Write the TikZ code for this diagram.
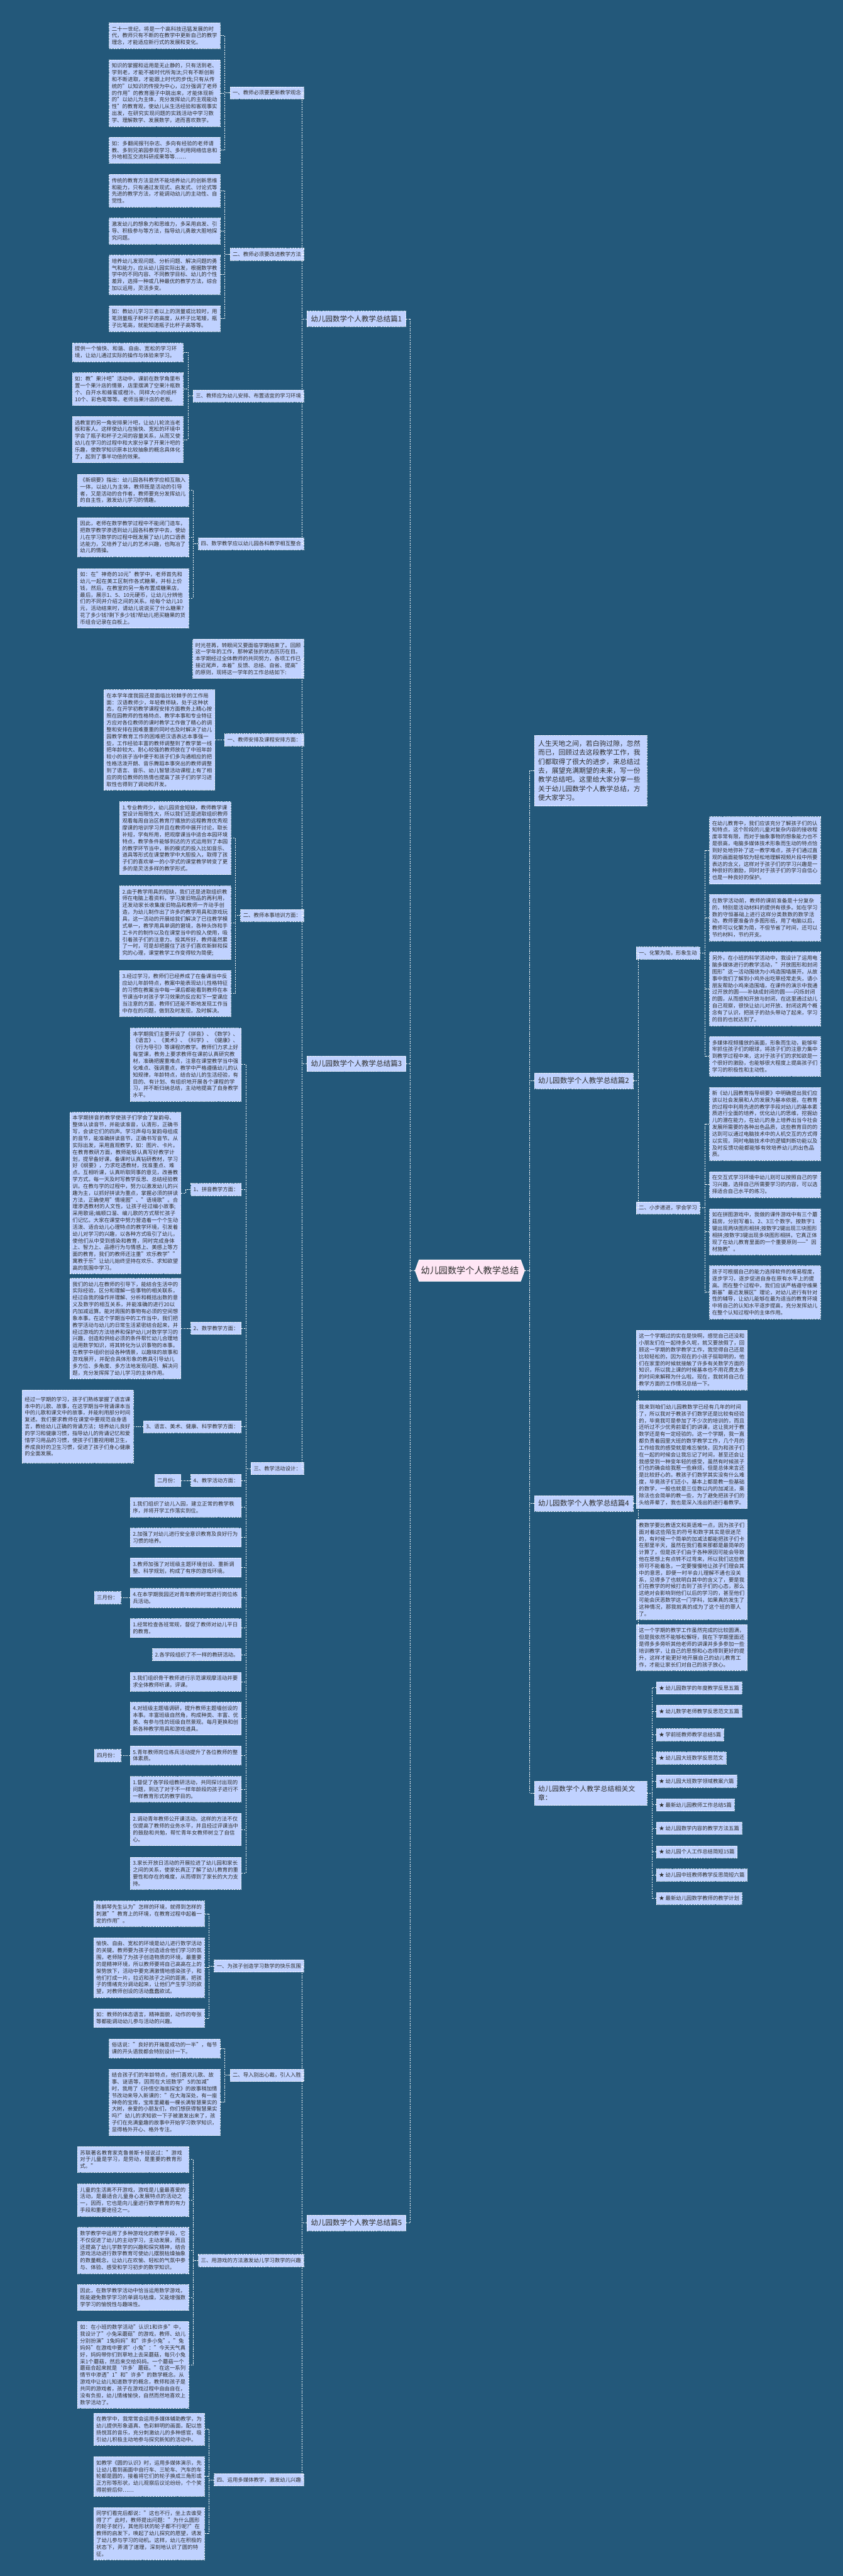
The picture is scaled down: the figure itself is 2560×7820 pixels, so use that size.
\documentclass[tikz,border=0pt]{standalone}
\usepackage{fontspec}
\setmainfont{Noto Sans CJK SC}
\usetikzlibrary{calc,shapes.symbols}
\XeTeXlinebreaklocale "zh"
\XeTeXlinebreakskip=0pt plus 1pt
\definecolor{bgc}{RGB}{35,88,122}
\definecolor{boxc}{RGB}{192,210,255}
\definecolor{rootc}{RGB}{255,230,245}
\definecolor{txtc}{RGB}{45,45,45}
\tikzset{
 conn/.style={draw=white, line width=1.6pt, dash pattern=on 4pt off 3pt},
 tb/.style={draw=white, line width=1.2pt, dash pattern=on 3pt off 2pt, fill=boxc, text=txtc,
   font=\fontsize{16}{20.7}\selectfont, text width=321pt, align=left, inner xsep=8pt, inner ysep=10pt},
 lb/.style={draw=white, line width=1.2pt, dash pattern=on 3pt off 2pt, fill=boxc, text=txtc,
   font=\fontsize{16}{20}\selectfont, inner xsep=8pt, inner ysep=6pt, minimum height=37pt},
 sec/.style={lb, font=\fontsize{22}{26}\selectfont, inner xsep=12pt, minimum height=47pt},
 big/.style={tb, font=\fontsize{20.5}{27.4}\selectfont, text width=318pt, inner xsep=12pt, inner ysep=13pt},
 ctr/.style={signal, signal to=west and east, signal pointer angle=140, draw=white, line width=1.2pt,
   fill=rootc, text=txtc, font=\fontsize{27}{32}\selectfont, minimum height=65pt, inner xsep=6pt},
}
\newcommand\LG[4]{%
 \coordinate (#1-t) at ($(#1.west)+(-15,0)$);
 \draw[conn] (#1.west) -- (#1-t);
 \draw[conn] (#1-t |- #2.east) -- (#1-t |- #3.east);
 \foreach \cc in {#4}{\draw[conn] (\cc.east) -- (#1-t |- \cc.east);}
}
\newcommand\RG[4]{%
 \coordinate (#1-r) at ($(#1.east)+(15,0)$);
 \draw[conn] (#1.east) -- (#1-r);
 \draw[conn] (#1-r |- #2.west) -- (#1-r |- #3.west);
 \foreach \cc in {#4}{\draw[conn] (\cc.west) -- (#1-r |- \cc.west);}
}
\begin{document}
\begin{tikzpicture}[x=1pt,y=-1pt]
\fill[bgc] (0,0) rectangle (2560,7820);
\useasboundingbox (0,0) rectangle (2560,7820);

% ---------- root ----------
\node[ctr] (root) at (1427,3857) {幼儿园数学个人教学总结};

% ---------- level 1 ----------
\node[sec, anchor=east] (p1) at (1233,968) {幼儿园数学个人教学总结篇1};
\node[sec, anchor=east] (p3) at (1233,3229) {幼儿园数学个人教学总结篇3};
\node[sec, anchor=east] (p5) at (1233,6748) {幼儿园数学个人教学总结篇5};
\node[big, anchor=north west, minimum height=214pt] (intro) at (1622,2232) {人生天地之间，若白驹过隙，忽然而已，回顾过去这段教学工作，我们都取得了很大的进步，来总结过去，展望充满期望的未来，写一份教学总结吧。这里给大家分享一些关于幼儿园数学个人教学总结，方便大家学习。};
\node[sec, anchor=west] (p2) at (1622,3281) {幼儿园数学个人教学总结篇2};
\node[sec, anchor=west] (p4) at (1622,4564) {幼儿园数学个人教学总结篇4};
\node[big, anchor=north west, minimum height=74pt] (rel) at (1622,5406) {幼儿园数学个人教学总结相关文章：};

% ---------- 篇1 ----------
\node[lb, anchor=east] (a0) at (923,282) {一、教师必须要更新教学观念};
\node[tb, anchor=north east, minimum height=78pt] (a1) at (669,69) {二十一世纪，将是一个高科技迅猛发展的时代，教师只有不断的在教学中更新自己的教学理念，才能适应新行式的发展和变化。};
\node[tb, anchor=north east, minimum height=202pt] (a2) at (669,181) {知识的掌握和运用是无止静的，只有活到老、学到老，才能不被时代所淘汰;只有不断创新和不断进取，才能跟上时代的步伐;只有从传统的"以知识的传授为中心，过分强调了老师的作用"的教育圈子中跳出来，才能体现新的"以幼儿为主体，充分发挥幼儿的主观能动性"的教育观，使幼儿从生活经验和客观事实出发，在研究实现问题的实践活动中学习数学、理解数学、发展数学，进而喜欢数学。};
\node[tb, anchor=north east, minimum height=79pt] (a3) at (669,416) {如：多翻阅报刊杂志、多向有经验的老师请教、多到兄弟园参观学习、多利用网络信息和外地相互交流科研成果等等……};

\node[lb, anchor=east] (b0) at (923,772) {二、教师必须要改进教学方法};
\node[tb, anchor=north east, minimum height=99pt] (b1) at (669,529) {传统的教育方法显然不能培养幼儿的创新思维和能力，只有通过发现式、启发式、讨论式等先进的教学方法，才能调动幼儿的主动性、自觉性。};
\node[tb, anchor=north east, minimum height=79pt] (b2) at (669,661) {激发幼儿的想象力和思维力，多采用启发、引导、积极参与等方法，指导幼儿勇敢大胆地探究问题。};
\node[tb, anchor=north east, minimum height=119pt] (b3) at (669,774) {培养幼儿发现问题、分析问题、解决问题的勇气和能力，应从幼儿园实际出发，根据数学教学中的不同内容、不同教学目标、幼儿的个性差异，选择一种或几种最优的教学方法，综合加以运用，灵活多变。};
\node[tb, anchor=north east, minimum height=79pt] (b4) at (669,927) {如：教幼儿学习三者以上的测量或比较时，用笔测量瓶子和杯子的高度，从杯子比笔矮，瓶子比笔高，就能知道瓶子比杯子高等等。};

\node[lb, anchor=east] (c0) at (923,1202) {三、教师应为幼儿安排、布置适宜的学习环境};
\node[tb, anchor=north east, minimum height=55pt] (c1) at (557,1041) {提供一个愉快、和谐、自由、宽松的学习环境，让幼儿通过实际的操作与体验来学习。};
\node[tb, anchor=north east, minimum height=99pt] (c2) at (557,1131) {如：教"果汁吧"活动中，课前在数学角里布置一个果汁店的情景，店里摆满了空果汁瓶数个、白开水和蜂蜜或橙汁、同样大小的纸杯10个、彩色笔等等。老师当果汁店的老板。};
\node[tb, anchor=north east, minimum height=140pt] (c3) at (557,1264) {选教室的另一角安排果汁吧，让幼儿轮流当老板和客人。这样使幼儿在愉快、宽松的环境中学会了瓶子和杯子之间的容量关系，从而又使幼儿在学习的过程中和大家分享了开果汁吧的乐趣，使数学知识原本比较抽象的概念具体化了，起到了事半功倍的效果。};

\node[lb, anchor=east] (d0) at (923,1651) {四、数学教学应以幼儿园各科教学相互整合};
\node[tb, anchor=north east, minimum height=97pt] (d1) at (573,1439) {《新纲要》指出：幼儿园各科教学应相互融入一体，以幼儿为主体，教师既是活动的引导者，又是活动的合作者，教师要充分发挥幼儿的自主性，激发幼儿学习的情趣。};
\node[tb, anchor=north east, minimum height=118pt] (d2) at (573,1571) {因此，老师在数学教学过程中不能闭门造车，把数学教学渗透到幼儿园各科教学中去，使幼儿在学习数学的过程中既发展了幼儿的口语表达能力，又培养了幼儿的艺术兴趣，也陶冶了幼儿的情操。};
\node[tb, anchor=north east, minimum height=181pt] (d3) at (573,1725) {如：在"神奇的10元"教学中，老师首先和幼儿一起在美工区制作各式糖果，并标上价钱，然后，在教室的另一角布置成糖果店，最后，展示1、5、10元硬币，让幼儿分辨他们的不同并介绍之间的关系。给每个幼儿10元，活动结束时，请幼儿说说买了什么糖果?花了多少钱?剩下多少钱?帮幼儿把买糖果的货币组合记录在白板上。};

% ---------- 篇3 ----------
\node[tb, anchor=north east, minimum height=119pt] (e0) at (923,1940) {时光荏苒，转眼间又要面临学期结束了。回顾这一学年的工作，那种紧张的状态历历在目。本学期经过全体教师的共同努力，各项工作已接近尾声，本着"反馈、总结、自省、提高"的原则，现将这一学年的工作总结如下:};
\node[lb, anchor=east] (f0) at (923,2246) {一、教师安排及课程安排方面：};
\node[tb, anchor=north east, minimum height=305pt] (f1) at (653,2093) {在本学年度我园还是面临比较棘手的工作局面：汉语教师少，年轻教师缺，处于这种状态，在开学初教学课程安排方面教务上精心按照在园教师的性格特点、教学本事和专业特征方应对各位教师的课时教学工作做了精心的调整和安排在困难重重的同时也及时解决了幼儿园教学教育工作的困难把汉语表达本事强一些，工作经验丰富的教师调整到了教学第一线把年龄较大、耐心较强的教师放在了中班年龄较小的孩子当中便于和孩子们多沟通相应的把性格活泼开朗、音乐舞蹈本事突出的教师调整到了语言、音乐、幼儿智慧活动课程上有了相应的岗位教师的热情也提高了孩子们的学习进取性也得到了调动和开发。};

\node[lb, anchor=east] (g0) at (923,2779) {二、教师本事培训方面：};
\node[tb, anchor=north east, minimum height=221pt] (g1) at (701,2433) {1.专业教师少，幼儿园资金短缺，教师教学课堂设计局限性大，所以我们还是进取组织教师观看每周自治区教育厅播放的远程教育优秀观摩课的培训学习并且在教师中展开讨论，取长补短，学有所用，把观摩课当中适合本园环境特点，教学条件能够到达的方式运用到了本园的教学环节当中，新的模式的投入比如音乐、道具等形式在课堂教学中大胆投入，取得了孩子们的喜欢单一的小学式的课堂教学转变了更多的是灵活多样的教学形式。};
\node[tb, anchor=north east, minimum height=222pt] (g2) at (701,2689) {2.由于教学用具的短缺，我们还是进取组织教师在电脑上看资料，学习废旧物品的再利用，还发动家长收集废旧物品和教师一齐动手创造，为幼儿制作出了许多的教学用具和游戏玩具，这一活动的开展给我们解决了已往教学模式单一，教学用具单调的窘境，各种头饰和手工卡片的制作以及在课堂当中的投入使用，吸引着孩子们的注意力。投其所好，教师虽然累了一时，可是却把握住了孩子们喜欢新鲜和探究的心理，课堂教学工作变得较为简便;};
\node[tb, anchor=north east, minimum height=139pt] (g3) at (701,2946) {3.经过学习，教师们已经养成了在备课当中反应幼儿年龄特点，教案中能表现幼儿性格特征的习惯在教案当中每一课后都能看到教师在本节课当中对孩子学习效果的反应和下一堂课应当注意的方面，教师们还能不断地发现工作当中存在的问题，做到及时发现，及时解决。};

\node[lb, anchor=east] (h0) at (923,4458) {三、教学活动设计：};
\node[tb, anchor=north east, minimum height=222pt] (h1) at (733,3120) {本学期我们主要开设了《拼音》、《数学》、《语言》、《美术》、《科学》、《健康》、《行为导引》等课程的教学。教师们力求上好每堂课，教务上要求教师在课前认真研究教材，准确把握重难点，注意在课堂教学当中强化难点、强调重点，教学中严格遵循幼儿的认知规律，年龄特点，结合幼儿的生活经验，有目的、有计划、有组织地开展各个课程的学习，并不断归纳总结，主动地提高了自身教学水平。};
\node[lb, anchor=east] (ha) at (733,3611) {1、拼音教学方面：};
\node[tb, anchor=north east, minimum height=470pt] (h2) at (550,3376) {本学期拼音的教学使孩子们学会了复韵母、整体认读音节，并能读准音，认清形，正确书写，会读它们的四声。学习声母与复韵母组成的音节，能准确拼读音节，正确书写音节。从实际出发，采用直观教学，如：图片、卡片。在教育教研方面，教师能够认真写好教学计划，提早备好课，备课时认真钻研教材，学习好《纲要》，力求吃透教材，找准重点、难点。互相听课，认真听取同事的意见，改善教学方式。每一天及时写教学反思、总结经验教训。在教与学的过程中，努力以激发幼儿的兴趣为主，以抓好拼读为重点，掌握必须的拼读方法，正确使用"情境图"、"语境歌"。合理渗透教材的人文性，让孩子经过编小故事;采用歌谣;编顺口溜、编儿歌的方式帮忙孩子们记忆。大家在课堂中努力营造着一个个生动活泼、适合幼儿心理特点的教学环境，引发着幼儿对学习的兴趣，以各种方式吸引了幼儿，使他们从中受到感染和教育，同时完成身体上、智力上、品德行为与情感上、美感上等方面的教育，我们的教师还注重"欢乐教学""寓教于乐"让幼儿始终坚持在欢乐、求知欲望高的氛围中学习。};
\node[lb, anchor=east] (hb) at (733,4032) {2、数学教学方面：};
\node[tb, anchor=north east, minimum height=305pt] (h3) at (550,3880) {我们的幼儿在教师的引导下，能结合生活中的实际经验，区分和理解一些事物的相关联系，经过自我的操作并理解、分析和概括出数的意义及数字的相互关系，并能准确的进行20以内加减运算。能对周围的事物有必须的空间想象本事。在这个学期当中的工作当中，我们把教学活动与幼儿的日常生活紧密结合起来，并经过游戏的方法培养和保护幼儿对数学学习的兴趣，创造和供给必须的条件帮忙幼儿合理地运用数学知识，将其转化为认识事物的本事。在教学中组织创设各种情景，以趣味的故事和游戏展开，并配合具体形象的教具引导幼儿多方位、多角度、多方法地发现问题、解决问题，充分发挥挥了幼儿学习的主体作用。};
\node[lb, anchor=east] (hc) at (733,4331) {3、语言、美术、健康、科学教学方面：};
\node[tb, anchor=north east, minimum height=222pt] (h4) at (405,4219) {经过一学期的学习，孩子们熟练掌握了语言课本中的儿歌、故事，在这学期当中背诵课本当中的儿歌和课文中的故事，并能利用部分时间复述。我们要求教师在课堂中要规范自身语言，教给幼儿正确的背诵方法；培养幼儿良好的学习和健康习惯，指导幼儿的背诵记忆和爱惜学习用品的习惯，使孩子们重视用眼卫生，养成良好的卫生习惯，促进了孩子们身心健康的全面发展。};
\node[lb, anchor=east] (hd) at (733,4494) {4、教学活动方面：};
\node[lb, anchor=east] (m2) at (550,4494) {二月份：};
\node[tb, anchor=north east, minimum height=58pt] (i1) at (733,4546) {1.我们组织了幼儿入园，建立正常的教学秩序，并将开学工作落实到位。};
\node[tb, anchor=north east, minimum height=57pt] (i2) at (733,4638) {2.加强了对幼儿进行安全意识教育及良好行为习惯的培养。};
\node[tb, anchor=north east, minimum height=58pt] (i3) at (733,4729) {3.教师加强了对班级主题环境创设、重新调整、科学规划，构成了有序的游戏环境。};
\node[tb, anchor=north east, minimum height=58pt] (i4) at (733,4821) {4.在本学期我园还对青年教师时常进行岗位练兵活动。};
\node[lb, anchor=east] (m3) at (367,4850) {三月份：};
\node[tb, anchor=north east, minimum height=57pt] (i5) at (733,4913) {1.经常检查各班常规，督促了教师对幼儿平日的教育。};
\node[lb, anchor=east] (i6) at (733,5023) {2.各学段组织了不一样的教研活动。};
\node[tb, anchor=north east, minimum height=57pt] (i7) at (733,5076) {3.我们组织骨干教师进行示范课观摩活动并要求全体教师听课，评课。};
\node[tb, anchor=north east, minimum height=99pt] (i8) at (733,5167) {4.对班级主题墙调研，提升教师主题墙创设的本事。丰富班级自然角，构成种类、丰富、优美、有参与性的班级自然景观。每月更换和创新各种教学用具和游戏道具。};
\node[tb, anchor=north east, minimum height=57pt] (i9) at (733,5300) {5.青年教师岗位练兵活动提升了各位教师的整体素质。};
\node[lb, anchor=east] (m4) at (367,5329) {四月份：};
\node[tb, anchor=north east, minimum height=78pt] (i10) at (733,5392) {1.督促了各学段组教研活动，共同探讨出现的问题，到达了对于不一样年龄段的孩子进行不一样教育形式的教学目的。};
\node[tb, anchor=north east, minimum height=98pt] (i11) at (733,5504) {2.调动青年教师公开课活动。这样的方法不仅仅提高了教师的业务水平，并且经过评课当中的鼓励和共勉，帮忙青年女教师树立了自信心。};
\node[tb, anchor=north east, minimum height=98pt] (i12) at (733,5637) {3.家长开放日活动的开展拉进了幼儿园和家长之间的关系，使家长真正了解了幼儿教育的重要性和存在的难度，从而得到了家长的大力支持。};

% ---------- 篇5 ----------
\node[lb, anchor=east] (n1) at (923,5968) {一、为孩子创造学习数学的快乐氛围};
\node[tb, anchor=north east, minimum height=78pt] (j1) at (622,5770) {陈鹤琴先生认为"怎样的环境，就得到怎样的刺激""教育上的环境，在教育过程中起着一定的作用"。};
\node[tb, anchor=north east, minimum height=181pt] (j2) at (622,5882) {愉快、自由、宽松的环境是幼儿进行数学活动的关键。教师要为孩子创造适合他们学习的氛围，老师除了为孩子创造物质的环境，最重要的是精神环境，所以教师要将自己高高在上的架势放下，活动中要充满激情地感染孩子，和他们打成一片，拉近和孩子之间的距离，把孩子的情绪充分调动起来，让他们产生学习的欲望，对教师创设的活动蠢蠢欲试。};
\node[tb, anchor=north east, minimum height=56pt] (j3) at (622,6098) {如：教师的体态语言，精神面貌，动作的夸张等都能调动幼儿参与活动的兴趣。};

\node[lb, anchor=east] (n2) at (923,6300) {二、导入别出心裁，引人入胜};
\node[tb, anchor=north east, minimum height=57pt] (k1) at (669,6189) {俗话说："良好的开端是成功的一半"，每节课的开头语我都会特别设计一下。};
\node[tb, anchor=north east, minimum height=201pt] (k2) at (669,6281) {结合孩子们的年龄特点，他们喜欢儿歌、故事、谜语等，因而在大班数学"5的加减"时，我用了《孙悟空海底探宝》的故事稍加情节改动来导入新课的："在大海深处，有一座神奇的宝库，宝库里藏着一棵长满智慧果实的大树，亲爱的小朋友们，你们想获得智慧果实吗?"幼儿的求知欲一下子被激发出来了，孩子们在充满童趣的故事中开始学习数学知识，显得格外开心、格外专注。};

\node[lb, anchor=east] (n3) at (923,6862) {三、用游戏的方法激发幼儿学习数学的兴趣};
\node[tb, anchor=north east, minimum height=78pt] (l1) at (573,6516) {苏联著名教育家克鲁普斯卡娅说过："游戏对于儿童是学习，是劳动，是重要的教育形式。"};
\node[tb, anchor=north east, minimum height=98pt] (l2) at (573,6629) {儿童的生活离不开游戏，游戏是儿童最喜爱的活动，是最适合儿童身心发展特点的活动之一，因而，它也是向儿童进行数学教育的有力手段和重要途径之一。};
\node[tb, anchor=north east, minimum height=140pt] (l3) at (573,6761) {数学教学中运用了多种游戏化的教学手段，它不仅促进了幼儿的主动学习，主动发展，而且还提高了幼儿学数学的兴趣和探究精神，结合游戏活动进行数学教育可使幼儿摆脱枯燥抽象的数量概念，让幼儿在欢愉、轻松的气氛中参与、体验、感受和学习初步的数学知识。};
\node[tb, anchor=north east, minimum height=78pt] (l4) at (573,6935) {因此，在数学教学活动中恰当运用数学游戏，既能避免数学学习的单调与枯燥，又能增强数学学习的愉悦性与趣味性。};
\node[tb, anchor=north east, minimum height=243pt] (l5) at (573,7047) {如：在小班的数学活动"认识1和许多"中，我设计了"小兔采蘑菇"的游戏，教师、幼儿分别扮演"1兔妈妈"和"许多小兔"。"兔妈妈"在游戏中要求"小兔"："今天天气真好，妈妈带你们到草地上去采蘑菇，每只小兔采1个蘑菇，然后来交给妈妈。一个蘑菇一个蘑菇合起来就是‘许多’蘑菇。"在这一系列情节中渗透"1"和"许多"的数学概念。从游戏中让幼儿知道数字的概念，教师和孩子是共同的游戏者，孩子在游戏过程中自由自在，没有负担，幼儿情绪愉快，自然而然地喜欢上数学活动了。};

\node[lb, anchor=east] (n4) at (923,7528) {四、运用多媒体教学，激发幼儿兴趣};
\node[tb, anchor=north east, minimum height=98pt] (o1) at (622,7325) {在教学中，我常常会运用多媒体辅助教学，为幼儿提供形象逼真、色彩鲜明的画面，配以悠扬悦耳的音乐，充分刺激幼儿的多种感官，吸引幼儿积极主动地参与探究新知的活动中。};
\node[tb, anchor=north east, minimum height=120pt] (o2) at (622,7457) {如教学《圆的认识》时，运用多媒体演示，先让幼儿看到画面中自行车、三轮车、汽车的车轮都是圆的，接着将它们的轮子换成三角形或正方形等形状，幼儿观察后议论纷纷，个个笑得前俯后仰……};
\node[tb, anchor=north east, minimum height=140pt] (o3) at (622,7611) {同学们看完后都说："这也不行，坐上去谁受得了?"此时，教师提出问题："为什么圆形的轮子就行，其他形状的轮子都不行呢?"在教师的启发下，唤起了幼儿探究的愿望，诱发了幼儿参与学习的动机。这样，幼儿在积极的状态下，弄清了道理，深刻地认识了圆的特征。};

% ---------- 篇2 ----------
\node[lb, anchor=west] (pa) at (1932,2893) {一、化繁为简，形象生动};
\node[tb, anchor=north west, minimum height=204pt] (q1) at (2154,2479) {在幼儿教育中，我们应该充分了解孩子们的认知特点，这个阶段的儿童对复杂内容的接收程度非常有限，而对于抽象事物的想象能力也不是很高，电脑多媒体技术形象而生动的特点恰到好处地弥补了这一教学难点，孩子们通过直观的画面能够较为轻松地理解视频片段中所要表达的含义，这样对于孩子们的学习兴趣是一种很好的激励，同时对于孩子们的学习自信心也是一种良好的保护。};
\node[tb, anchor=north west, minimum height=141pt] (q2) at (2154,2715) {在数学活动前，教师的课前准备是十分复杂的，特别是活动材料的提供有很多。如在学习数的守恒基础上进行这样分类数数的数学活动，教师要准备许多图形纸，用了电脑以后，教师可以化繁为简，不但节省了时间，还可以节约材料，节约开支。};
\node[tb, anchor=north west, minimum height=224pt] (q3) at (2154,2889) {另外，在小班的科学活动中，我设计了运用电脑多媒体进行的教学活动，"开放图形和封闭图形"这一活动围绕为小鸡造围墙展开。从故事中我们了解到小鸡外出吃草经常走失，请小朋友帮助小鸡来造围墙，在课件的演示中我通过开放的圆——补缺成封闭的圆——闪烁封闭的圆，从而感知开放与封闭，在这里通过幼儿自己观察，很快让幼儿对开放、封闭这两个概念有了认识，把孩子的劲头带动了起来，学习的目的也就达到了。};
\node[tb, anchor=north west, minimum height=120pt] (q4) at (2154,3146) {多媒体视频播放的画面，形象而生动，能够牢牢抓住孩子们的眼球，将孩子们的注意力集中到教学过程中来，这对于孩子们的求知欲是一个很好的激励，也能够很大程度上提高孩子们学习的积极性和主动性。};

\node[lb, anchor=west] (pb) at (1932,3667) {二、小步递进，学会学习};
\node[tb, anchor=north west, minimum height=222pt] (u1) at (2154,3300) {新《幼儿园教育指导纲要》中明确提出我们应该以社会发展和人的发展为基本依据，在教育的过程中利用先进的教学手段对幼儿的基本素质进行全面的培养，优化幼儿的思维，挖掘幼儿的潜在能力，在幼儿的身上培养出当今社会发展所需要的各种出色品质，这些教育目的的达到可以通过电脑技术中的人机交互的方式得以实现，同时电脑技术中的逻辑判断功能以及及时反馈功能都能够有效培养幼儿的出色品质。};
\node[tb, anchor=north west, minimum height=79pt] (u2) at (2154,3556) {在交互式学习环境中幼儿则可以按照自己的学习兴趣，选择自己所需要学习的内容，可以选择适合自己水平的练习。};
\node[tb, anchor=north west, minimum height=140pt] (u3) at (2154,3669) {如在拼图游戏中，我做的课件游戏中有三个蘑菇房，分别写着1、2、3三个数字。按数字1键出现两块图形相拼;按数字2键出现三块图形相拼;按数字3键出现多块图形相拼。它真正体现了在幼儿教育里面的一个重要原则——"因材施教"。};
\node[tb, anchor=north west, minimum height=161pt] (u4) at (2154,3842) {孩子可根据自己的能力选择软件的难易程度，逐步学习，逐步促进自身在原有水平上的提高。而在整个过程中，我们应该严格遵守维果斯基"最近发展区"理论，对幼儿进行有针对性的辅导，让幼儿能够在最为适当的教育环境中将自己的认知水平逐步提高，充分发挥幼儿在整个认知过程中的主体作用。};

% ---------- 篇4 ----------
\node[tb, anchor=north west, minimum height=182pt] (r1) at (1932,4037) {这一个学期过的实在是快啊，感觉自己还没和小朋友们在一起待多久呢，就又要放假了，回顾这一学期的数学教学工作，我觉得自己还是比较轻松的，因为现在的小孩子挺聪明的，他们在家里的时候就接触了许多有关数学方面的知识，所以我上课的时候基本也不用花费太多的时间来解释为什么啦。现在，我就将自己在教学方面的工作情况总结一下。};
\node[tb, anchor=north west, minimum height=327pt] (r2) at (1932,4252) {我来到咱们幼儿园教数学已经有几年的时间了，所以我对于教孩子们数学还是比较有经验的，毕竟我可是参加了不少次的培训的，而且还听过不少优秀前辈们的讲课，这让我对于教数学还是有一定经验的。这一个学期，我一直都负责着园里大班的数学教学工作，几个月的工作给我的感受就是难忘愉快，因为和孩子们在一起的时候会让我忘记了时间，甚至还会让我感受到一种变年轻的感受，虽然有时候孩子们也的确会给我惹一些麻烦，但是总体来言还是比较舒心的。教孩子们数学其实没有什么难度，毕竟孩子们还小，基本上都是教一些基础的数学，一般也就是三位数以内的加减法，乘除法也会简单的教一些，为了避免把孩子们的头给弄晕了，我也是深入浅出的进行着教学。};
\node[tb, anchor=north west, minimum height=285pt] (r3) at (1932,4612) {教数学要比教语文和英语难一点，因为孩子们面对着这些陌生的符号和数字其实是很迷茫的，有时候一个简单的加减法都能把孩子们卡在那里半天，虽然在我们看来那都是最简单的计算了，但是孩子们由于各种原因可能会导致他在思想上有点转不过弯来，所以我们这些教师可不能着急，一定要慢慢地让孩子们理会其中的意思，即便一时半会儿理解不通也没关系，见得多了也就明白其中的含义了，要是我们在教学的时候打击到了孩子们的心态，那么这绝对会影响到他们以后的学习的，甚至他们可能会厌恶数学这一门学科，如果真的发生了这种情况，那我就真的成为了这个班的罪人了。};
\node[tb, anchor=north west, minimum height=140pt] (r4) at (1932,4931) {这一个学期的教学工作虽然完成的比较圆满，但是我依然不能够松懈呀，我在下学期里面还是得多多旁听其他老师的讲课并多多参加一些培训教学，让自己的思想和心态得到更好的提升，这样才能更好地开展自己的幼儿教育工作，才能让家长们对自己的孩子放心。};

% ---------- related ----------
\node[lb, anchor=west] (s1) at (1993,5124) {★ 幼儿园数学的年度教学反思五篇};
\node[lb, anchor=west] (s2) at (1993,5195) {★ 幼儿数学老师教学反思范文五篇};
\node[lb, anchor=west] (s3) at (1993,5266) {★ 学前班教师教学总结5篇};
\node[lb, anchor=west] (s4) at (1993,5337) {★ 幼儿园大班数学反思范文};
\node[lb, anchor=west] (s5) at (1993,5407) {★ 幼儿园大班数学领域教案六篇};
\node[lb, anchor=west] (s6) at (1993,5479) {★ 最新幼儿园教师工作总结5篇};
\node[lb, anchor=west] (s7) at (1993,5550) {★ 幼儿园数学内容的教学方法五篇};
\node[lb, anchor=west] (s8) at (1993,5622) {★ 幼儿园个人工作总结简短15篇};
\node[lb, anchor=west] (s9) at (1993,5692) {★ 幼儿园中班教师教学反思简短六篇};
\node[lb, anchor=west] (s10) at (1993,5763) {★ 最新幼儿园数学教师的教学计划};

% ---------- connectors ----------
\LG{root}{p1}{p5}{p1,p3,p5}
\RG{root}{intro}{rel}{intro,p2,p4,rel}
\LG{p1}{a0}{d0}{a0,b0,c0,d0}
\LG{a0}{a1}{a3}{a1,a2,a3}
\LG{b0}{b1}{b4}{b1,b2,b3,b4}
\LG{c0}{c1}{c3}{c1,c2,c3}
\LG{d0}{d1}{d3}{d1,d2,d3}
\LG{p3}{e0}{h0}{e0,f0,g0,h0}
\LG{f0}{f0}{f1}{f1}
\LG{g0}{g1}{g3}{g1,g2,g3}
\LG{h0}{h1}{i12}{h1,ha,hb,hc,hd,i1,i2,i3,i4,i5,i6,i7,i8,i9,i10,i11,i12}
\LG{ha}{ha}{h2}{h2}
\LG{hb}{hb}{h3}{h3}
\LG{hc}{hc}{h4}{h4}
\LG{hd}{hd}{m2}{m2}
\LG{i4}{i4}{m3}{m3}
\LG{i9}{i9}{m4}{m4}
\LG{p5}{n1}{n4}{n1,n2,n3,n4}
\LG{n1}{j1}{j3}{j1,j2,j3}
\LG{n2}{k1}{k2}{k1,k2}
\LG{n3}{l1}{l5}{l1,l2,l3,l4,l5}
\LG{n4}{o1}{o3}{o1,o2,o3}
\RG{p2}{pa}{pb}{pa,pb}
\RG{pa}{q1}{q4}{q1,q2,q3,q4}
\RG{pb}{u1}{u4}{u1,u2,u3,u4}
\RG{p4}{r1}{r4}{r1,r2,r3,r4}
\RG{rel}{s1}{s10}{s1,s2,s3,s4,s5,s6,s7,s8,s9,s10}
\end{tikzpicture}
\end{document}
